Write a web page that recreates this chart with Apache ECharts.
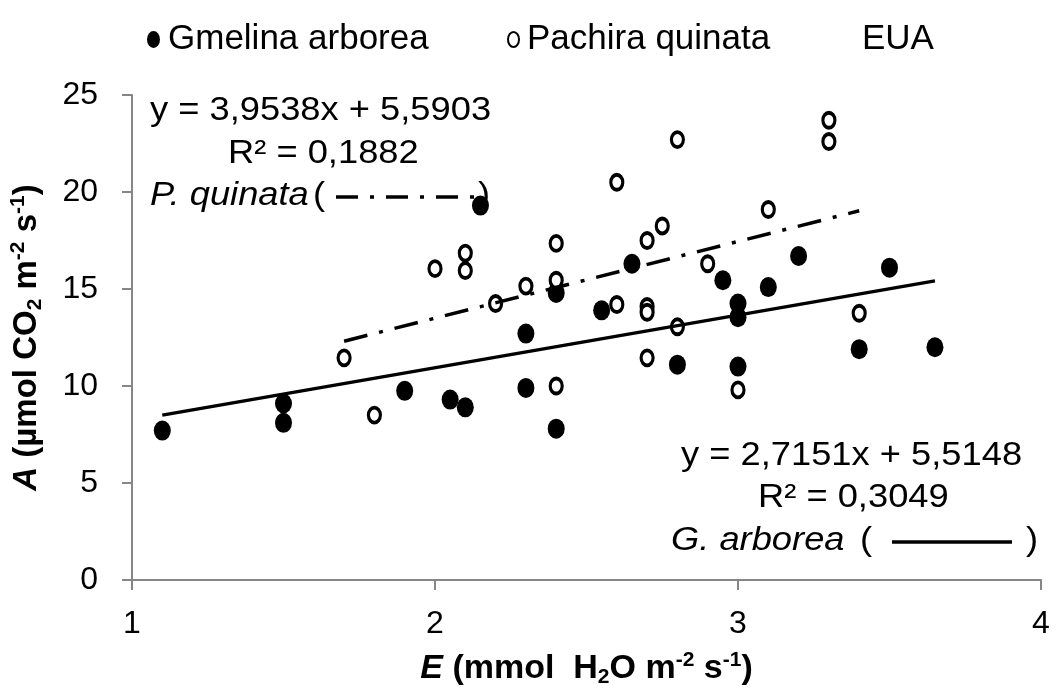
<!DOCTYPE html>
<html>
<head>
<meta charset="utf-8">
<script src="https://cdn.jsdelivr.net/npm/echarts@6/dist/echarts.min.js"></script>
<style>html,body{margin:0;padding:0;background:#fff}#chart{width:1057px;height:695px}</style>
</head>
<body>
<div id="chart"></div>
<script>
// E (x) vs A (y) for each species
var gmelina = [[1.1,7.7],[1.5,9.1],[1.5,8.1],[1.9,9.75],[2.05,9.3],[2.1,8.9],[2.15,19.3],[2.3,12.7],[2.3,9.9],
  [2.4,14.8],[2.4,7.8],[2.55,13.9],[2.65,16.3],[2.8,11.1],[2.95,15.45],[3.0,14.25],[3.0,13.55],[3.0,11.0],
  [3.1,15.1],[3.2,16.7],[3.4,11.9],[3.5,16.1],[3.65,12.0]];
var pachira = [[1.7,11.45],[1.8,8.5],[2.0,16.05],[2.1,16.85],[2.1,15.95],[2.2,14.25],[2.3,15.15],[2.4,17.35],
  [2.4,15.45],[2.4,10.0],[2.6,20.5],[2.6,14.2],[2.7,17.5],[2.7,14.1],[2.7,13.8],[2.7,11.45],[2.75,18.25],
  [2.8,22.7],[2.8,13.05],[2.9,16.3],[3.0,9.8],[3.1,19.1],[3.3,23.7],[3.3,22.6],[3.4,13.75]];
// trend line end points (y = 2,7151x + 5,5148 and y = 3,9538x + 5,5903)
var trendG = [[1.1,8.50],[3.65,15.42]];
var trendP = [[1.7,12.31],[3.4,19.03]];
var seriesNames = ['Gmelina arborea','Pachira quinata','EUA'];
var xRange = [1,4,1];
var yRange = [0,25,5];

var ell = 'path://M0,10 A10,10 0 1,1 20,10 A10,10 0 1,1 0,10 Z';
var font = 'Liberation Sans, Arial, sans-serif';
var axisCol = '#868686';
function richSet(sz) {
  return {
    bi: {fontSize:sz, fontWeight:'bold', fontStyle:'italic', fontFamily:font, color:'#000', lineHeight:38},
    b: {fontSize:sz, fontWeight:'bold', fontFamily:font, color:'#000', lineHeight:38},
    sub: {fontSize:21, fontWeight:'bold', fontFamily:font, color:'#000', lineHeight:20, verticalAlign:'bottom'},
    sup: {fontSize:21, fontWeight:'bold', fontFamily:font, color:'#000', lineHeight:20, verticalAlign:'top'}
  };
}

var chart = echarts.init(document.getElementById('chart'));
var legendText = {fontSize:35, fontFamily:font, color:'#000', padding:[0,0,0,3]};
var txt = function (x, y, s, italic) {
  return {type:'text', left:x, top:y, scaleX:1.1,
    style:{text:s, font:(italic ? 'italic ' : '') + '33px ' + font, fill:'#000'}};
};
chart.setOption({
  animation:false,
  backgroundColor:'#fff',
  grid:{left:132, right:16, top:95, bottom:115},
  legend:[
    {data:[{name:seriesNames[0], icon:ell}], left:142, top:17, itemWidth:13, itemHeight:17, symbolKeepAspect:false,
      selectedMode:false, textStyle:legendText, itemStyle:{color:'#000', opacity:1}},
    {data:[{name:seriesNames[1], icon:ell}], left:502, top:17, itemWidth:11, itemHeight:15, symbolKeepAspect:false,
      selectedMode:false, textStyle:legendText, itemStyle:{color:'#fff', borderColor:'#000', borderWidth:2, opacity:1}},
    {data:[{name:seriesNames[2], icon:'rect', itemStyle:{opacity:0}}], left:848, top:17, itemWidth:1, itemHeight:1, selectedMode:false, textStyle:legendText}
  ],
  xAxis:{
    type:'value', min:xRange[0], max:xRange[1], interval:xRange[2],
    name:'{bi|E}{b| (mmol  H}{sub|2}{b|O m}{sup|-2}{b| s}{sup|-1}{b|)}',
    nameLocation:'middle', nameGap:70, nameMoveOverlap:false, nameTextStyle:{rich:richSet(34)},
    axisLine:{lineStyle:{color:axisCol, width:2}},
    axisTick:{length:10, lineStyle:{color:axisCol, width:2}},
    axisLabel:{fontSize:32, fontFamily:font, color:'#000', margin:28},
    splitLine:{show:false}
  },
  yAxis:{
    type:'value', min:yRange[0], max:yRange[1], interval:yRange[2],
    name:'{bi|A}{b| (µmol CO}{sub|2}{b| m}{sup|-2}{b| s}{sup|-1}{b|)}',
    nameLocation:'middle', nameRotate:90, nameGap:86, nameMoveOverlap:false, nameTextStyle:{rich:richSet(33)},
    axisLine:{show:true, lineStyle:{color:axisCol, width:2}},
    axisTick:{show:true, length:10, lineStyle:{color:axisCol, width:2}},
    axisLabel:{fontSize:32, fontFamily:font, color:'#000', margin:34},
    splitLine:{show:false}
  },
  series:[
    {name:seriesNames[0], type:'scatter', data:gmelina, symbol:ell, symbolSize:[17,20],
      itemStyle:{color:'#000', opacity:1}, z:2},
    {name:seriesNames[1], type:'scatter', data:pachira, symbol:ell, symbolSize:[12,15],
      itemStyle:{color:'#fff', borderColor:'#000', borderWidth:3.5, opacity:1}, z:3},
    {name:seriesNames[2], type:'scatter', data:[], itemStyle:{color:'transparent'}},
    {name:'trendG', type:'line', data:trendG, symbol:'none', z:4,
      lineStyle:{color:'#000', width:3.5}},
    {name:'trendP', type:'line', data:trendP, symbol:'none', z:4,
      lineStyle:{color:'#000', width:3.5, type:[24,12,4,12]}}
  ],
  graphic:[
    txt(150, 94, 'y = 3,9538x + 5,5903'),
    txt(228, 137, 'R² = 0,1882'),
    txt(150, 179, 'P. quinata', true),
    txt(313, 179, '('),
    {type:'line', shape:{x1:336, y1:197, x2:480, y2:197}, style:{stroke:'#000', lineWidth:3.5, lineDash:[22,12,4,12]}},
    txt(478, 179, ')'),
    txt(681, 439, 'y = 2,7151x + 5,5148'),
    txt(758, 481, 'R² = 0,3049'),
    txt(671, 524, 'G. arborea', true),
    txt(860, 524, '('),
    {type:'line', shape:{x1:892, y1:542, x2:1012, y2:542}, style:{stroke:'#000', lineWidth:3.5}},
    txt(1026, 524, ')')
  ]
});
</script>
</body>
</html>
